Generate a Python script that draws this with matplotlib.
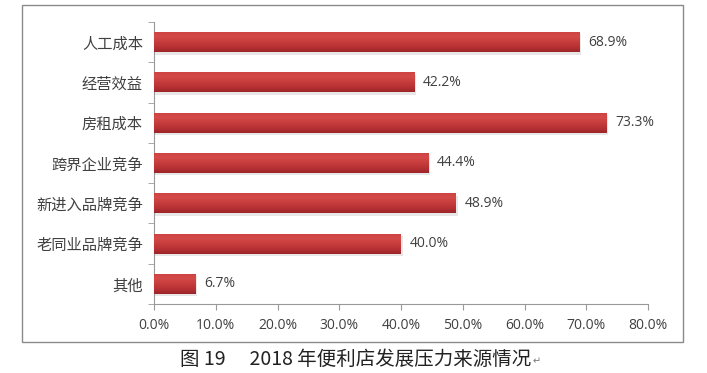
import matplotlib
matplotlib.use("Agg")
import matplotlib.pyplot as plt
import numpy as np
from matplotlib.patches import Rectangle
from matplotlib.colors import LinearSegmentedColormap

plt.rcParams['font.family'] = ['Noto Sans CJK SC', 'DejaVu Sans']

categories = ["人工成本", "经营效益", "房租成本", "跨界企业竞争", "新进入品牌竞争", "老同业品牌竞争", "其他"]
values = [68.9, 42.2, 73.3, 44.4, 48.9, 40.0, 6.7]
xticks = [0, 10, 20, 30, 40, 50, 60, 70, 80]
xtick_labels = ["0.0%", "10.0%", "20.0%", "30.0%", "40.0%", "50.0%", "60.0%", "70.0%", "80.0%"]
caption = "图 19\u3000 2018 年便利店发展压力来源情况"

fig = plt.figure(figsize=(7.07, 3.73), dpi=100)
ax = fig.add_axes([154/707, 1-304/373, 494/707, 282/373])

n = len(categories)
ypos = np.arange(n)[::-1]
bars = ax.barh(ypos, values, height=0.5, color="#C0383A", zorder=2)

cmap = LinearSegmentedColormap.from_list("cyl", ["#9C2528", "#B83235", "#C83D3D", "#D44A49", "#CC4242"])
grad = np.linspace(0, 1, 64).reshape(-1, 1)
for b in bars:
    x0, y0, w, h = b.get_x(), b.get_y(), b.get_width(), b.get_height()
    ax.add_patch(Rectangle((x0, y0 - 0.06), w + 0.3, h, facecolor="#bbbbbb", alpha=0.35,
                           edgecolor="none", zorder=1))
    im = ax.imshow(grad, cmap=cmap, aspect="auto", extent=(x0, x0 + w, y0, y0 + h),
                   origin="lower", zorder=3, interpolation="bilinear")
    im.set_clip_path(b)
    b.set_facecolor("none")

for y, v in zip(ypos, values):
    ax.text(v + 1.4, y, f"{v:.1f}%", va="center", ha="left", fontsize=10,
            color="#404040", family=["Open Sans", "DejaVu Sans"])

ax.set_xlim(0, 80)
ax.set_ylim(-0.5, n - 0.5)
ax.set_xticks(xticks)
ax.set_xticklabels(xtick_labels, fontsize=10, color="#404040", family=["Open Sans", "DejaVu Sans"])
ax.set_yticks(ypos)
ax.set_yticklabels(categories, fontsize=11, color="#404040")
ax.set_yticks(np.arange(-0.5, n, 1.0), minor=True)
ax.tick_params(axis="y", which="major", length=0, pad=8)
ax.tick_params(axis="y", which="minor", length=4, color="#999999", direction="out")
ax.tick_params(axis="x", length=4, color="#999999", direction="out", pad=6)
for s in ["top", "right"]:
    ax.spines[s].set_visible(False)
for s in ["left", "bottom"]:
    ax.spines[s].set_color("#999999")

fig.add_artist(Rectangle((22/707, 1-342/373), 661/707, 337/373, transform=fig.transFigure,
                         fill=False, edgecolor="#8a8a8a", linewidth=1.0))

cap = fig.text(180/707, 1-359/373, caption, ha="left", va="center", fontsize=14, color="#222222")
fig.canvas.draw()
bb = cap.get_window_extent()
fig.text((bb.x1 + 1) / 707, 1-361/373, "↵", ha="left", va="center", fontsize=7, color="#777777",
         family=["DejaVu Sans"])

fig.savefig("out.png", dpi=100)
